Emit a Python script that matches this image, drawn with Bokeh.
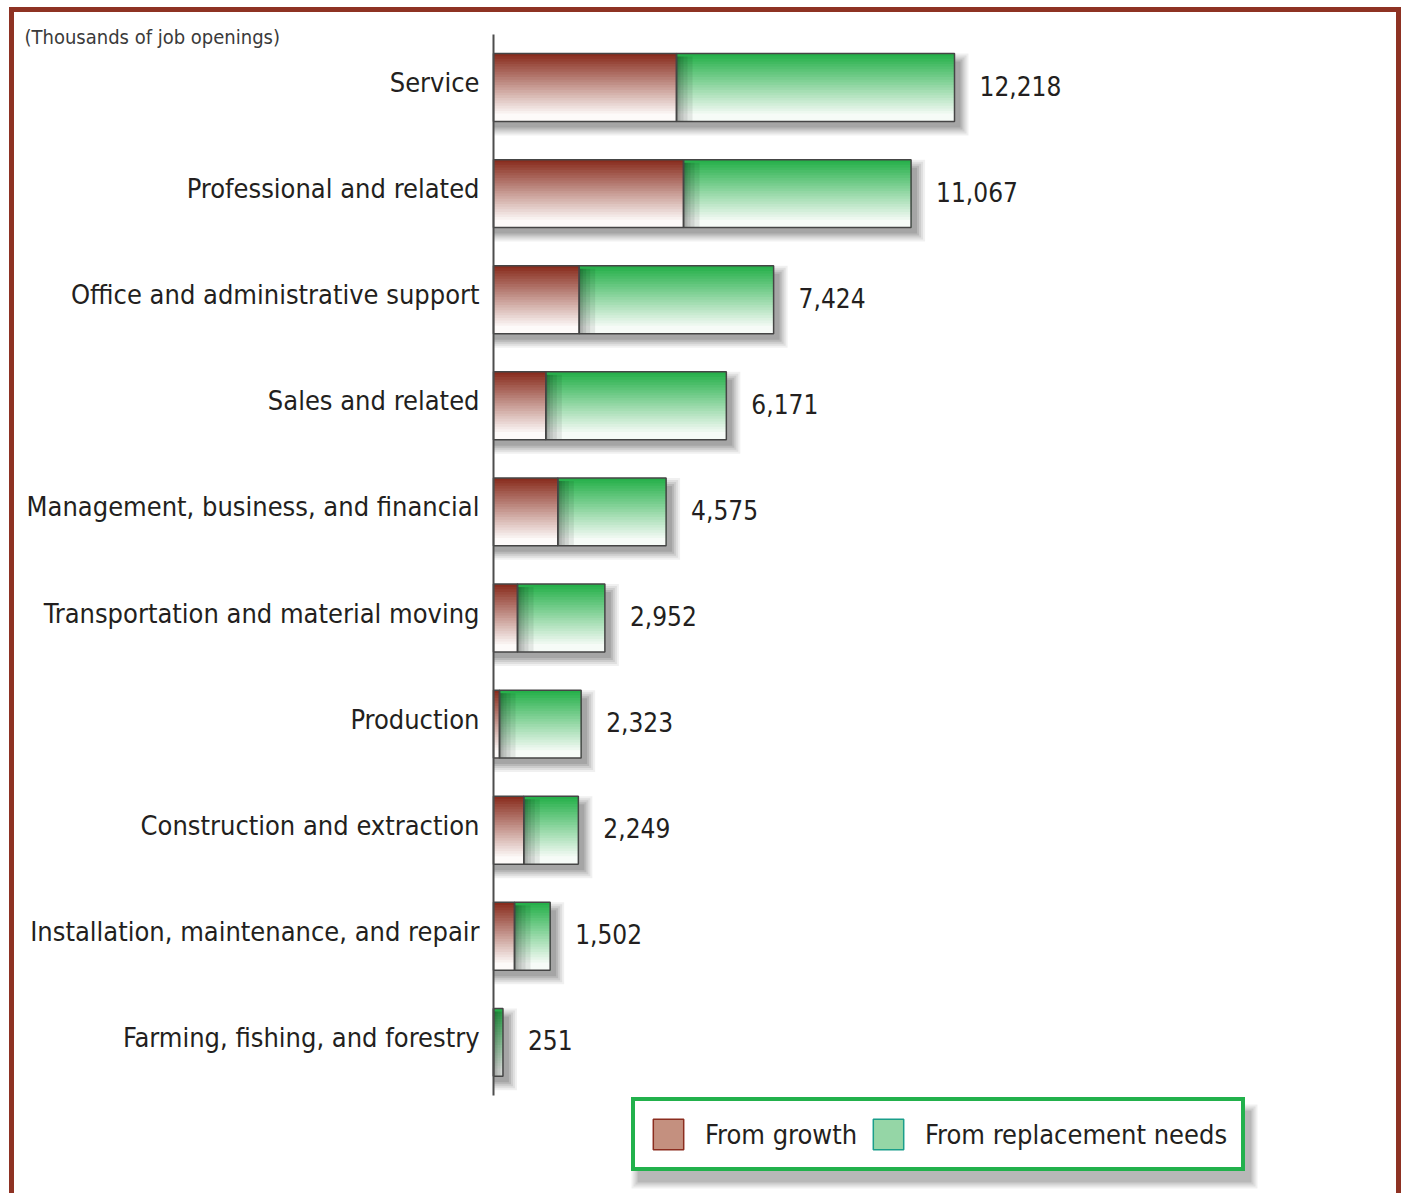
from bokeh.plotting import figure
from bokeh.models import ColumnDataSource, Range1d, Legend, LegendItem, Label
from bokeh.core.properties import value
from bokeh.embed import file_html
from bokeh.resources import INLINE

# ---------------- data ----------------
categories = [
    "Service",
    "Professional and related",
    "Office and administrative support",
    "Sales and related",
    "Management, business, and financial",
    "Transportation and material moving",
    "Production",
    "Construction and extraction",
    "Installation, maintenance, and repair",
    "Farming, fishing, and forestry",
]
totals = [12218, 11067, 7424, 6171, 4575, 2952, 2323, 2249, 1502, 251]
growth = [4850, 5036, 2271, 1387, 1705, 636, 159, 803, 557, 0]
replacement = [t - g for t, g in zip(totals, growth)]
value_labels = ["12,218", "11,067", "7,424", "6,171", "4,575", "2,952", "2,323", "2,249", "1,502", "251"]
series_names = ["From growth", "From replacement needs"]
unit_note = "(Thousands of job openings)"

# ---------------- layout / style ----------------
FONT = "'DejaVu Sans Condensed', Roboto, sans-serif"
TXT = "#231f20"
W, H = 1392, 1186            # canvas size (the red frame is drawn over its edges)
AXIS_X_PX = 479              # axis position from canvas left
PX_PER_UNIT = 461.0 / 12218.0
ROW_PX = 106.1               # pixels per category row
TOP_ROW_PX = 75              # centre of first row from canvas top
n = len(categories)
ypos = [n - 1 - i for i in range(n)]   # first category on top

x_start = -AXIS_X_PX / PX_PER_UNIT
x_end = (W - AXIS_X_PX) / PX_PER_UNIT
y_end = (n - 1) + TOP_ROW_PX / ROW_PX
y_start = y_end - H / ROW_PX
UX = 1 / PX_PER_UNIT
UY = 1 / ROW_PX
BAR_H = 0.64
N = 26

# legend box (screen px from the canvas' bottom-left corner)
LEG_X, LEG_W, LEG_H = 617, 610, 68
LEG_Y = H - 1159

RED_TOP, RED_BOT = (137, 45, 30), (253, 250, 249)
GRN_TOP, GRN_BOT = (38, 176, 74), (246, 251, 247)


def lerp(c0, c1, t):
    t = min(1.0, t / 0.92)
    return "#%02x%02x%02x" % tuple(int(round(a + (b - a) * t)) for a, b in zip(c0, c1))


p = figure(
    width=W, height=H,
    x_range=Range1d(x_start, x_end), y_range=Range1d(y_start, y_end),
    x_axis_location=None, y_axis_location=None,
    output_backend="svg", toolbar_location=None, min_border=0,
)
p.outline_line_color = None
p.grid.visible = False
p.background_fill_color = "white"
p.border_fill_color = "white"
p.styles = {
    "margin-left": "9px",
    "margin-top": "7px",
    "border-top": "5px solid #8e3223",
    "border-left": "5px solid #8e3223",
    "border-right": "5px solid #8e3223",
}

# ---- drop shadows ----
sh = dict(y=[], left=[], right=[], h=[], a=[])
for blur, alpha in [(9, 0.06), (7, 0.07), (5, 0.08), (3, 0.10), (1, 0.10)]:
    for yy, t in zip(ypos, totals):
        sh["y"].append(yy - 7 * UY)
        sh["left"].append(0)
        sh["right"].append(t + (5 + blur) * UX)
        sh["h"].append(BAR_H + 2 * blur * UY - 4 * UY)
        sh["a"].append(alpha)
p.hbar(y="y", left="left", right="right", height="h", fill_color="black",
       fill_alpha="a", line_color=None, source=ColumnDataSource(sh))

# ---- legend drop shadow ----
lsh = dict(l=[], r=[], b=[], t=[], a=[])
for blur, alpha in [(8, 0.06), (6, 0.07), (4, 0.08), (2, 0.10)]:
    lsh["l"].append(x_start + (LEG_X + 8 - blur) * UX)
    lsh["r"].append(x_start + (LEG_X + LEG_W + 8 + blur) * UX)
    lsh["b"].append(y_start + (LEG_Y - 9 - blur) * UY)
    lsh["t"].append(y_start + (LEG_Y + LEG_H - 9 + blur) * UY)
    lsh["a"].append(alpha)
p.quad(left="l", right="r", bottom="b", top="t", fill_color="black",
       fill_alpha="a", line_color=None, source=ColumnDataSource(lsh))

# ---- gradient bars (strips) ----
st = dict(y=[], left=[], right=[], h=[], c=[])
for yy, g, t in zip(ypos, growth, totals):
    for k in range(N):
        h = BAR_H * (N - k) / N
        off = -BAR_H / 2 + h / 2
        frac = k / (N - 1)
        if g > 0:
            st["y"].append(yy + off); st["left"].append(0); st["right"].append(g)
            st["h"].append(h); st["c"].append(lerp(RED_TOP, RED_BOT, frac))
        st["y"].append(yy + off); st["left"].append(g); st["right"].append(t)
        st["h"].append(h); st["c"].append(lerp(GRN_TOP, GRN_BOT, frac))
p.hbar(y="y", left="left", right="right", height="h", fill_color="c",
       line_color=None, source=ColumnDataSource(st))

# ---- inner shadow on the replacement segment ----
ins = dict(y=[], left=[], right=[], h=[])
for w in [2, 4, 7, 11, 16]:
    for yy, g, t in zip(ypos, growth, totals):
        ins["y"].append(yy - 1.5 * UY)
        ins["left"].append(g)
        ins["right"].append(min(g + w * UX, t))
        ins["h"].append(BAR_H - 3 * UY)
p.hbar(y="y", left="left", right="right", height="h", fill_color="black",
       fill_alpha=0.08, line_color=None, source=ColumnDataSource(ins))

# ---- outlines ----
src = ColumnDataSource(dict(y=ypos, cat=categories, growth=growth, total=totals,
                            zero=[0] * n, lab=value_labels))
p.hbar(y="y", left="zero", right="growth", height=BAR_H, fill_alpha=0,
       line_color="#454545", line_width=1.5, source=src)
p.hbar(y="y", left="growth", right="total", height=BAR_H, fill_alpha=0,
       line_color="#454545", line_width=1.5, source=src)

# ---- category axis (line + labels) ----
p.segment(x0=[0], y0=[-0.5], x1=[0], y1=[n - 0.5], line_color="#4d4d4d", line_width=2)
p.text(x="zero", y="y", text="cat", x_offset=-14, y_offset=-5, source=src,
       text_font=value(FONT), text_font_size="27px", text_color=TXT,
       text_baseline="middle", text_align="right")

# ---- value labels ----
p.text(x="total", y="y", text="lab", x_offset=25, y_offset=-2, source=src,
       text_font=value(FONT), text_font_size="26px", text_color=TXT,
       text_baseline="middle", text_align="left")

# ---- unit note ----
p.add_layout(Label(x=10, y=H - 24, x_units="screen", y_units="screen",
                   text=unit_note, text_font=FONT, text_font_size="20px",
                   text_color="#3a3a3a", text_baseline="middle"))

# ---- legend ----
rg = p.hbar(y=[y_start - 5], left=[0], right=[1000], height=0.5,
            fill_color="#c4907f", line_color="#8b2d1f", line_width=1.5)
rr = p.hbar(y=[y_start - 5], left=[0], right=[1000], height=0.5,
            fill_color="#95d6a6", line_color="#1a9e8a", line_width=1.5)
legend = Legend(items=[LegendItem(label=series_names[0], renderers=[rg]),
                       LegendItem(label=series_names[1], renderers=[rr])],
                orientation="horizontal", location=(LEG_X, LEG_Y))
legend.label_text_font = FONT
legend.label_text_font_size = "27px"
legend.label_text_color = TXT
legend.glyph_width = 38
legend.glyph_height = 38
legend.label_height = 38
legend.label_standoff = 18
legend.spacing = 12
legend.padding = 14
legend.margin = 0
legend.border_line_color = "#22b14c"
legend.border_line_alpha = 1.0
legend.border_line_width = 4
legend.background_fill_color = "white"
legend.background_fill_alpha = 1.0
p.add_layout(legend, "center")

open("out.html", "w").write(file_html(p, INLINE))
